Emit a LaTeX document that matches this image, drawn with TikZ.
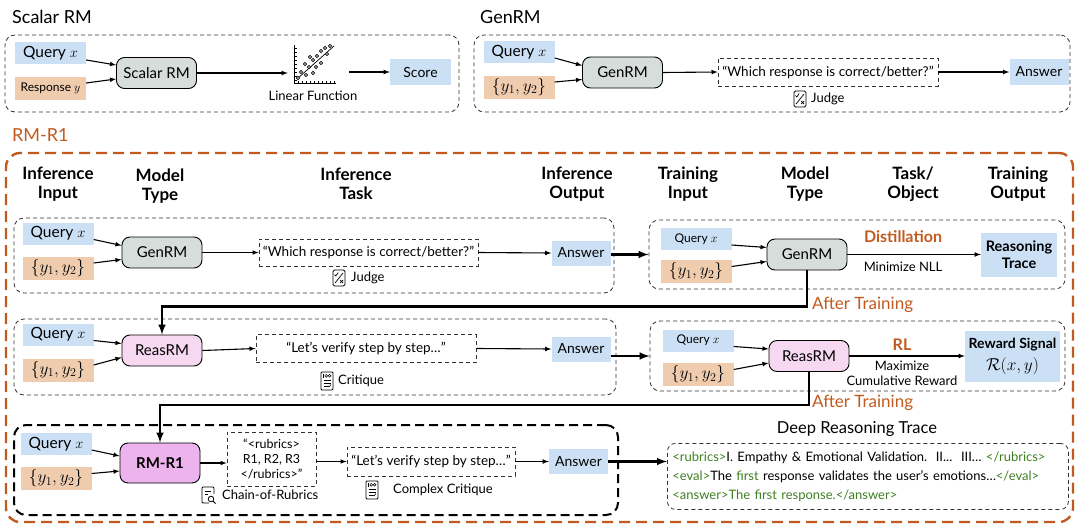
\documentclass[tikz,border=0pt]{standalone}
\usepackage[no-math]{fontspec}
\setmainfont{Lato}
\usepackage{xcolor}
\usepackage{tikz}
\usetikzlibrary{arrows, positioning, calc, fit}

\definecolor{qblue}{HTML}{CCE0F5}
\definecolor{ypeach}{HTML}{F0CCAF}
\definecolor{gengray}{HTML}{D6DDDA}
\definecolor{reaspink}{HTML}{F6D8F1}
\definecolor{rmpink}{HTML}{EDB3EC}
\definecolor{rmorange}{HTML}{C25A1F}
\definecolor{taggreen}{HTML}{3E7F22}

\tikzset{
  grp/.style={draw=black!80, line width=0.8pt, dash pattern=on 4pt off 3pt, rounded corners=10pt, inner sep=0pt},
  qbox/.style={fill=qblue, minimum width=71pt, minimum height=22pt, inner sep=0pt, font=\fontsize{15.5}{18}\selectfont},
  ybox/.style={fill=ypeach, minimum width=71pt, minimum height=23pt, inner sep=0pt, font=\fontsize{16.5}{19}\selectfont},
  model/.style={draw, line width=0.9pt, rounded corners=8pt, minimum width=80pt, minimum height=31pt, inner sep=0pt, font=\fontsize{15}{18}\selectfont},
  genrm/.style={model, fill=gengray},
  reasrm/.style={model, fill=reaspink},
  rmrone/.style={model, fill=rmpink, minimum height=40pt, font=\bfseries\fontsize{15}{18}\selectfont},
  qtbox/.style={draw=black!80, line width=0.8pt, dash pattern=on 4pt off 3pt, inner sep=0pt, font=\fontsize{13.5}{16}\selectfont},
  ans/.style={fill=qblue, minimum width=59pt, minimum height=25pt, inner sep=0pt, font=\fontsize{14}{17}\selectfont},
  hdr/.style={align=center, font=\bfseries\fontsize{17}{19}\selectfont},
  lbl/.style={inner sep=1pt, font=\fontsize{13}{15}\selectfont},
  ttl/.style={anchor=west, inner sep=1pt, font=\fontsize{18}{21}\selectfont},
  orng/.style={text=rmorange, font=\bfseries\fontsize{16}{19}\selectfont},
  aftr/.style={anchor=west, inner sep=1pt, text=rmorange, font=\fontsize{17}{20}\selectfont},
  arr/.style={-latex, line width=1.1pt},
  bigarr/.style={-latex, line width=2.4pt},
  judgeicon/.pic={
    \draw[line width=0.8pt, rounded corners=1.5pt] (-6,-8) rectangle (6,8);
    \draw[line width=0.7pt] (-4,5) -- (4,-5);
    \draw[line width=0.7pt] (-4.5,-3.5) -- (-3.2,-2) -- (-0.8,-5.5);
    \draw[line width=0.7pt] (1.2,2) -- (4,5) (1.2,5) -- (4,2);
  },
  critiqueicon/.pic={
    \draw[line width=0.8pt, rounded corners=1pt] (-6,-9) rectangle (6,9);
    \draw[line width=0.6pt] (-3.5,-7) -- (-3.5,-3.5);
    \draw[line width=0.5pt] (-0.8,-5.2) circle (1.4) (2.6,-5.2) circle (1.4);
    \draw[line width=0.6pt] (-3.5,-0.5) -- (3.5,-0.5) (-3.5,2.5) -- (3.5,2.5) (-3.5,5.5) -- (0.5,5.5);
    \draw[line width=0.6pt] (1,5) -- (2,6) -- (4,3.5);
  },
  rubricicon/.pic={
    \draw[line width=0.8pt, rounded corners=1pt] (1,8) -- (-6,8) -- (-6,-8) -- (6,-8) -- (6,-1);
    \draw[line width=0.7pt] (-3,-4) -- (3,-4) (-3,-0.5) -- (-0.5,-0.5);
    \draw[line width=0.8pt] (3,4) circle (2.8);
    \draw[line width=0.9pt] (5,6) -- (7.5,8.5);
  }
}

\begin{document}
\begin{tikzpicture}[x=1pt, y=-1pt]
\useasboundingbox (0,0) rectangle (1078,527);

% scalar RM
\node[ttl] (stitle) at (11,17) {Scalar RM};
\node[grp, fit={(5,35) (459,112)}] (sgrp) {};
\node[qbox] (sq) at (50.5,53.5) {Query $x$};
\node[ybox, font=\fontsize{12}{14}\selectfont] (sr) at (50.5,88) {Response $y$};
\node[genrm] (smodel) at (156.5,73) {Scalar RM};
\node[minimum width=61pt, minimum height=40pt, inner sep=0pt] (chart) at (318.5,64) {};
\draw[line width=0.8pt] (294,45) -- (294,83) -- (336,83);
\foreach \t in {48,52,...,80} \draw[line width=0.5pt] (294,\t) -- (296.5,\t);
\foreach \t in {298,302,...,334} \draw[line width=0.5pt] (\t,83) -- (\t,80.5);
\draw[line width=0.7pt] (297,79) -- (334,46);
\foreach \p in {(298,78),(301,72),(305,64),(309,67),(313,60),(317,56),(321,51),(325,48),(330,46),(316,67),(321,63),(306,75),(310,57),(327,54),(313,73)}
  \draw[line width=0.6pt, fill=white] \p circle (1.6);
\node[lbl] (linf) at (313,96) {Linear Function};
\node[ans, minimum width=61pt] (score) at (420.5,72) {Score};

\draw[arr] ([yshift=-6.5pt]sq.east) -- ([yshift=8pt]smodel.west);
\draw[arr] ([yshift=5pt]sr.east) -- ([yshift=-6pt]smodel.west);
\draw[arr] (smodel.east) -- (smodel.east -| chart.west);
\draw[arr] (chart.east |- score.west) -- (score.west);

% GenRM
\node[ttl] (gtitle) at (479,17) {GenRM};
\node[grp, fit={(474,35) (1070,112)}] (ggrp) {};
\node[qbox] (gq) at (519,52) {Query $x$};
\node[ybox, font=\fontsize{18}{20}\selectfont] (gy) at (519,87) {$\{y_1,y_2\}$};
\node[genrm] (gmodel) at (622.5,72.5) {GenRM};
\node[qtbox, minimum width=220pt, minimum height=28pt] (gtext) at (828,72) {“Which response is correct/better?”};
\pic at (800,99) {judgeicon};
\node[lbl, anchor=west] (gjudge) at (810,99) {Judge};
\node[ans] (gans) at (1039,72) {Answer};

\draw[arr] ([yshift=-6pt]gq.east) -- ([yshift=7pt]gmodel.west);
\draw[arr] ([yshift=5pt]gy.east) -- ([yshift=-7pt]gmodel.west);
\draw[arr] (gmodel.east) -- (gtext.west);
\draw[arr] (gtext.east) -- (gans.west);

% RM-R1
\node[ttl, text=rmorange] (rtitle) at (11,135) {RM-R1};
\node[grp, draw=rmorange, line width=2.4pt, dash pattern=on 11pt off 6pt, rounded corners=14pt, fit={(6,153) (1073,522)}] (rgrp) {};

\node[hdr] (h1) at (58,184) {Inference\\Input};
\node[hdr] (h2) at (160,186) {Model\\Type};
\node[hdr] (h3) at (356,184) {Inference\\Task};
\node[hdr] (h4) at (577,184) {Inference\\Output};
\node[hdr] (h5) at (688,184) {Training\\Input};
\node[hdr] (h6) at (805,184) {Model\\Type};
\node[hdr] (h7) at (913,184) {Task/\\Object};
\node[hdr] (h8) at (1018,184) {Training\\Output};

% row 1: inference
\node[grp, fit={(14,218) (614,293)}] (i1) {};
\node[qbox] (i1q) at (58,233.5) {Query $x$};
\node[ybox] (i1y) at (58,268) {$\{y_1,y_2\}$};
\node[genrm] (i1m) at (162,252.5) {GenRM};
\node[qtbox, minimum width=219pt, minimum height=27pt] (i1t) at (368.5,252.5) {“Which response is correct/better?”};
\pic at (339,278) {judgeicon};
\node[lbl, anchor=west] (i1l) at (350,278) {Judge};
\node[ans] (i1a) at (581,253) {Answer};

\draw[arr] ([yshift=-6pt]i1q.east) -- ([yshift=7pt]i1m.west);
\draw[arr] ([yshift=5pt]i1y.east) -- ([yshift=-7pt]i1m.west);
\draw[arr] (i1m.east) -- (i1t.west);
\draw[arr] (i1t.east) -- (i1a.west);

% row 1: training
\node[grp, fit={(649,220) (1065,289)}] (t1) {};
\node[qbox, font=\fontsize{12}{14}\selectfont] (t1q) at (696,239) {Query $x$};
\node[ybox, font=\fontsize{18.5}{21}\selectfont] (t1y) at (696,271.5) {$\{y_1,y_2\}$};
\node[genrm] (t1m) at (807,254.5) {GenRM};
\node[orng] (dist) at (903,237) {Distillation};
\node[lbl] (nll) at (903,267) {Minimize NLL};
\node[ans, minimum width=76pt, minimum height=44pt, align=center, font=\bfseries\fontsize{14.5}{17}\selectfont] (t1o) at (1019,255) {Reasoning\\Trace};

\draw[arr] ([yshift=-6pt]t1q.east) -- ([yshift=7pt]t1m.west);
\draw[arr] ([yshift=5pt]t1y.east) -- ([yshift=-7pt]t1m.west);
\draw[arr] (t1m.east) -- (t1m.east -| t1o.west);
\draw[bigarr] (i1a.east |- t1.west) -- (t1.west);

% row 2: inference
\node[grp, fit={(14,319) (616,395)}] (i2) {};
\node[qbox] (i2q) at (58,334.5) {Query $x$};
\node[ybox] (i2y) at (58,370) {$\{y_1,y_2\}$};
\node[reasrm] (i2m) at (162,350.5) {ReasRM};
\node[qtbox, minimum width=220pt, minimum height=28pt] (i2t) at (366,348.5) {“Let’s verify step by step…”};
\pic at (327,381) {critiqueicon};
\node[lbl, anchor=west] (i2l) at (337,381) {Critique};
\node[ans] (i2a) at (581,349) {Answer};

\draw[arr] ([yshift=-6pt]i2q.east) -- ([yshift=7pt]i2m.west);
\draw[arr] ([yshift=5pt]i2y.east) -- ([yshift=-7pt]i2m.west);
\draw[arr] (i2m.east) -- (i2t.west);
\draw[arr] (i2t.east) -- (i2a.west);

% row 2: training
\node[grp, fit={(650,321) (1065,391)}] (t2) {};
\node[qbox, font=\fontsize{12}{14}\selectfont] (t2q) at (698,340.5) {Query $x$};
\node[ybox, font=\fontsize{18.5}{21}\selectfont] (t2y) at (698,374.5) {$\{y_1,y_2\}$};
\node[reasrm] (t2m) at (809,356) {ReasRM};
\node[orng] (rl) at (902,345) {RL};
\node[lbl, align=center] (maxr) at (902,373.5) {Maximize\\Cumulative Reward};
\node[ans, minimum width=95pt, minimum height=51pt, align=center, font=\fontsize{14}{22}\selectfont] (t2o) at (1012.5,356.5) {\textbf{Reward Signal}\\{\fontsize{19}{22}\selectfont$\mathcal{R}(x,y)$}};

\draw[arr] ([yshift=-6pt]t2q.east) -- ([yshift=7pt]t2m.west);
\draw[arr] ([yshift=5pt]t2y.east) -- ([yshift=-7pt]t2m.west);
\draw[arr] (t2m.east) -- (t2m.east -| t2o.west);
\draw[bigarr] (i2a.east |- t2.west) -- (t2.west);

% after training
\draw[bigarr] (t1m.south) -- ++(0,36) -| (i2m.north);
\node[aftr] (at1) at (811,305) {After Training};

% row 3: RM-R1
\node[grp, draw=black, line width=2pt, dash pattern=on 9pt off 5pt, rounded corners=12pt, fit={(14,425) (618,515)}] (i3) {};
\node[qbox] (i3q) at (56,444) {Query $x$};
\node[ybox] (i3y) at (56,478.5) {$\{y_1,y_2\}$};
\node[rmrone] (i3m) at (160,463) {RM-R1};
\node[qtbox, minimum width=89pt, minimum height=54pt, align=center, font=\fontsize{12.5}{15}\selectfont] (i3r) at (271.5,459) {“<rubrics>\\R1, R2, R3\\</rubrics>”};
\pic at (208,495) {rubricicon};
\node[lbl, anchor=west] (i3rl) at (221,495) {Chain-of-Rubrics};
\node[qtbox, minimum width=168pt, minimum height=29pt] (i3c) at (431,461.5) {“Let’s verify step by step…”};
\pic at (372,490) {critiqueicon};
\node[lbl, anchor=west] (i3cl) at (392,490) {Complex Critique};
\node[ans] (i3a) at (578.5,461.5) {Answer};

\draw[arr] ([yshift=-6pt]i3q.east) -- ([yshift=7pt]i3m.west);
\draw[arr] ([yshift=5pt]i3y.east) -- ([yshift=-8pt]i3m.west);
\draw[arr] (i3m.east) -- (i3m.east -| i3r.west);
\draw[arr] (i3r.east |- i3c.west) -- (i3c.west);
\draw[arr] (i3c.east) -- (i3a.west);

\draw[bigarr] (t2m.south) -- ++(0,33) -| (i3m.north);
\node[aftr] (at2) at (811,403) {After Training};

% deep reasoning trace
\node[font=\fontsize{16.5}{19}\selectfont] (dtitle) at (857,429) {Deep Reasoning Trace};
\node[qtbox, anchor=north west, minimum width=401pt, minimum height=66pt, rounded corners=8pt, align=left, text width=391pt, inner xsep=5pt, font=\fontsize{13}{19}\selectfont] (deep) at (667,443) {\textcolor{taggreen}{<rubrics>}I. Empathy \& Emotional Validation.\ \ II...\ \ III… \textcolor{taggreen}{</rubrics>}\\
\textcolor{taggreen}{<eval>}The \textcolor{taggreen}{first} response validates the user’s emotions…\textcolor{taggreen}{</eval>}\\
\textcolor{taggreen}{<answer>The first response.</answer>}};
\draw[bigarr] (i3a.east) -- (i3a.east -| deep.west);

\end{tikzpicture}
\end{document}
